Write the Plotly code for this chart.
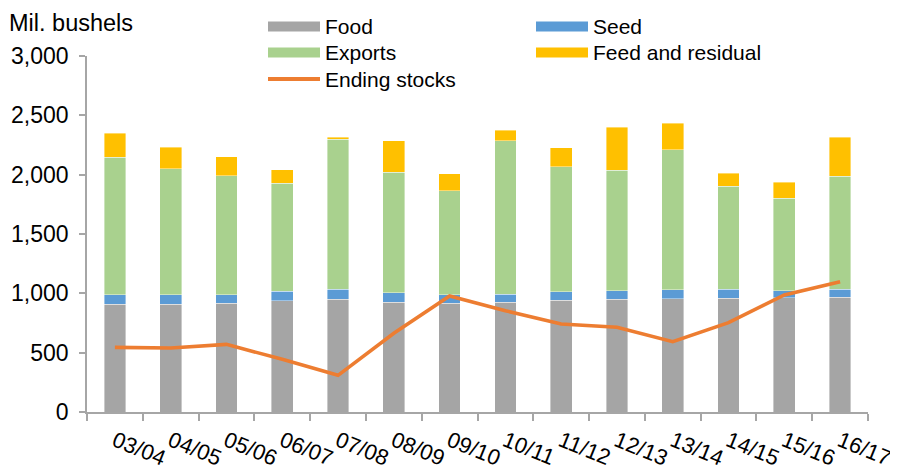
import plotly.graph_objects as go

years = ["03/04", "04/05", "05/06", "06/07", "07/08", "08/09", "09/10",
         "10/11", "11/12", "12/13", "13/14", "14/15", "15/16", "16/17"]
food = [910, 907, 916, 938, 949, 924, 916, 927, 941, 949, 955, 958, 961, 969]
seed = [76, 79, 73, 79, 85, 79, 70, 67, 73, 73, 76, 76, 61, 65]
exports = [1160, 1064, 1002, 910, 1264, 1017, 879, 1292, 1053, 1014, 1180, 868, 779, 952]
feed = [205, 180, 158, 115, 17, 266, 143, 88, 158, 363, 224, 112, 137, 329]
ending = [545, 539, 570, 444, 309, 663, 978, 854, 742, 714, 593, 753, 986, 1098]

C_FOOD = "#A5A5A5"
C_SEED = "#5B9BD5"
C_EXP = "#A9D18E"
C_FEED = "#FFC000"
C_END = "#ED7D31"
AXIS = "#A6A6A6"
FONT = "Liberation Sans, Arial, sans-serif"

# the page body has an 8px margin, so the figure starts at (8, 8) in the window;
# size it so that it reaches the window's right and bottom edges
OFF = 8
W, H = 898 - OFF, 472 - OFF
# plot area in window pixels: x 87..868, y 56..412
ML, MT = 87 - OFF, 56 - OFF
MR = W - (868 - OFF)
MB = H - (412 - OFF)
PW, PH = W - ML - MR, H - MT - MB

fig = go.Figure()
edge = dict(color="rgba(255,255,255,0.5)", width=0.8)
for name, vals, col in [("Food", food, C_FOOD), ("Seed", seed, C_SEED),
                        ("Exports", exports, C_EXP), ("Feed and residual", feed, C_FEED)]:
    fig.add_trace(go.Bar(x=years, y=vals, name=name, marker=dict(color=col, line=edge),
                         showlegend=False))
fig.add_trace(go.Scatter(x=years, y=ending, name="Ending stocks", mode="lines",
                         line=dict(color=C_END, width=3.6), showlegend=False))


def px2x(px):
    # window pixel -> paper x
    return (px - OFF - ML) / PW


def py2y(py):
    return (H - MB - (py - OFF)) / PH


shapes = []
annots = []
legend_items = [
    ("Food", C_FOOD, "bar", 268, 26.5),
    ("Seed", C_SEED, "bar", 536, 26.5),
    ("Exports", C_EXP, "bar", 268, 52.5),
    ("Feed and residual", C_FEED, "bar", 536, 52.5),
    ("Ending stocks", C_END, "line", 268, 79),
]
for label, col, kind, x0, yc in legend_items:
    if kind == "bar":
        shapes.append(dict(type="rect", xref="paper", yref="paper",
                           x0=px2x(x0), x1=px2x(x0 + 52), y0=py2y(yc + 5), y1=py2y(yc - 5),
                           fillcolor=col, line=dict(width=0)))
    else:
        shapes.append(dict(type="line", xref="paper", yref="paper",
                           x0=px2x(x0), x1=px2x(x0 + 52), y0=py2y(yc), y1=py2y(yc),
                           line=dict(color=col, width=4)))
    annots.append(dict(text=label, xref="paper", yref="paper", x=px2x(x0 + 55), y=py2y(yc),
                       xanchor="left", yanchor="middle", showarrow=False,
                       font=dict(family=FONT, size=21, color="#000")))

annots.append(dict(text="Mil. bushels", xref="paper", yref="paper", x=px2x(8), y=py2y(8.5),
                   xanchor="left", yanchor="top", showarrow=False, borderpad=0,
                   font=dict(family=FONT, size=23.5, color="#000")))

fig.update_layout(
    width=W, height=H, barmode="stack", bargap=0.61,
    margin=dict(l=ML, r=MR, t=MT, b=MB, autoexpand=False),
    paper_bgcolor="white", plot_bgcolor="white",
    font=dict(family=FONT, size=22, color="#000"),
    shapes=shapes, annotations=annots,
    xaxis=dict(showline=True, linecolor=AXIS, linewidth=1.5, ticks="outside",
               tickson="boundaries", ticklen=7, tickcolor=AXIS, tickwidth=1.5,
               tickangle=22, showgrid=False, tickfont=dict(size=22),
               ticklabelstandoff=6, automargin=False),
    yaxis=dict(range=[0, 3000], dtick=500, tickformat=",", showline=True,
               linecolor=AXIS, linewidth=1.5, ticks="outside", ticklen=6,
               tickcolor=AXIS, tickwidth=1.5, showgrid=False, zeroline=False,
               tickfont=dict(size=23), ticklabelstandoff=6, automargin=False),
)

fig.write_html("out.html")
